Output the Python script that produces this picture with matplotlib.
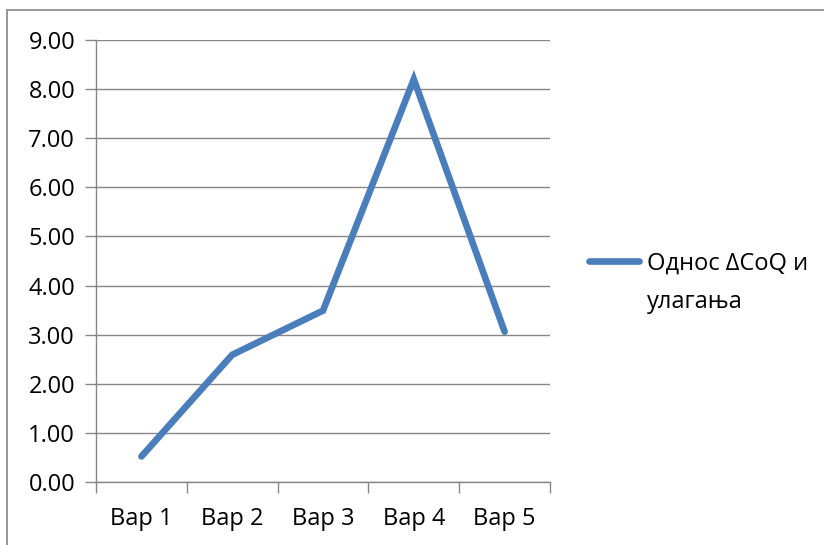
import matplotlib.pyplot as plt
from matplotlib.patches import Rectangle

plt.rcParams['font.family'] = ['Open Sans', 'DejaVu Sans']

# Однос ΔCoQ и улагања по варијантама
variants = ['Вар 1', 'Вар 2', 'Вар 3', 'Вар 4', 'Вар 5']
ratio = [0.52, 2.59, 3.49, 8.20, 3.06]
yticks = [0, 1, 2, 3, 4, 5, 6, 7, 8, 9]

grid_c = '#868686'
line_c = '#4A7EBB'
fs = 17

fig = plt.figure(figsize=(8.24, 5.45), dpi=100)
ax = fig.add_axes([96/824, 1 - 482/545, 454/824, 442/545])

x = list(range(len(variants)))
ax.plot(x, ratio, color=line_c, lw=4.8, solid_capstyle='round',
        solid_joinstyle='miter', label='Однос ΔCoQ и\nулагања')

ax.set_xlim(-0.5, len(variants) - 0.5)
ax.set_ylim(0, 9)
ax.set_yticks(yticks)
ax.set_yticklabels([f'{v:.2f}' for v in yticks])
ax.set_xticks(x)
ax.set_xticklabels(variants)
ax.set_xticks([i - 0.5 for i in range(len(variants) + 1)], minor=True)

ax.grid(axis='y', color=grid_c, lw=1.0)
ax.set_axisbelow(True)
for s in ['top', 'right']:
    ax.spines[s].set_visible(False)
for s in ['left', 'bottom']:
    ax.spines[s].set_color(grid_c)
    ax.spines[s].set_linewidth(1.0)

ax.tick_params(axis='y', direction='out', length=8, width=1.0, color=grid_c,
               labelsize=fs, pad=7)
ax.tick_params(axis='x', which='major', length=0, labelsize=fs, pad=18)
ax.tick_params(axis='x', which='minor', direction='out', length=8, width=1.0,
               color=grid_c)

leg = fig.legend(loc='upper left', bbox_to_anchor=(589/824, 1 - 252/545),
                 frameon=False, fontsize=fs, handlelength=2.1,
                 handleheight=1.0, handletextpad=0.35, borderpad=0,
                 borderaxespad=0)
for t in leg.get_texts():
    t.set_linespacing(1.75)
# линија легенде уз први ред текста
for col in leg._legend_handle_box.get_children():
    for item in col.get_children():
        item.align = 'top'

# рамка око графикона
fig.patches.append(Rectangle((7/824, -0.1), 1.2, 1 - 10/545 + 0.1,
                             transform=fig.transFigure, fill=False,
                             edgecolor=grid_c, lw=1.2))

fig.savefig('out.png', dpi=100)
